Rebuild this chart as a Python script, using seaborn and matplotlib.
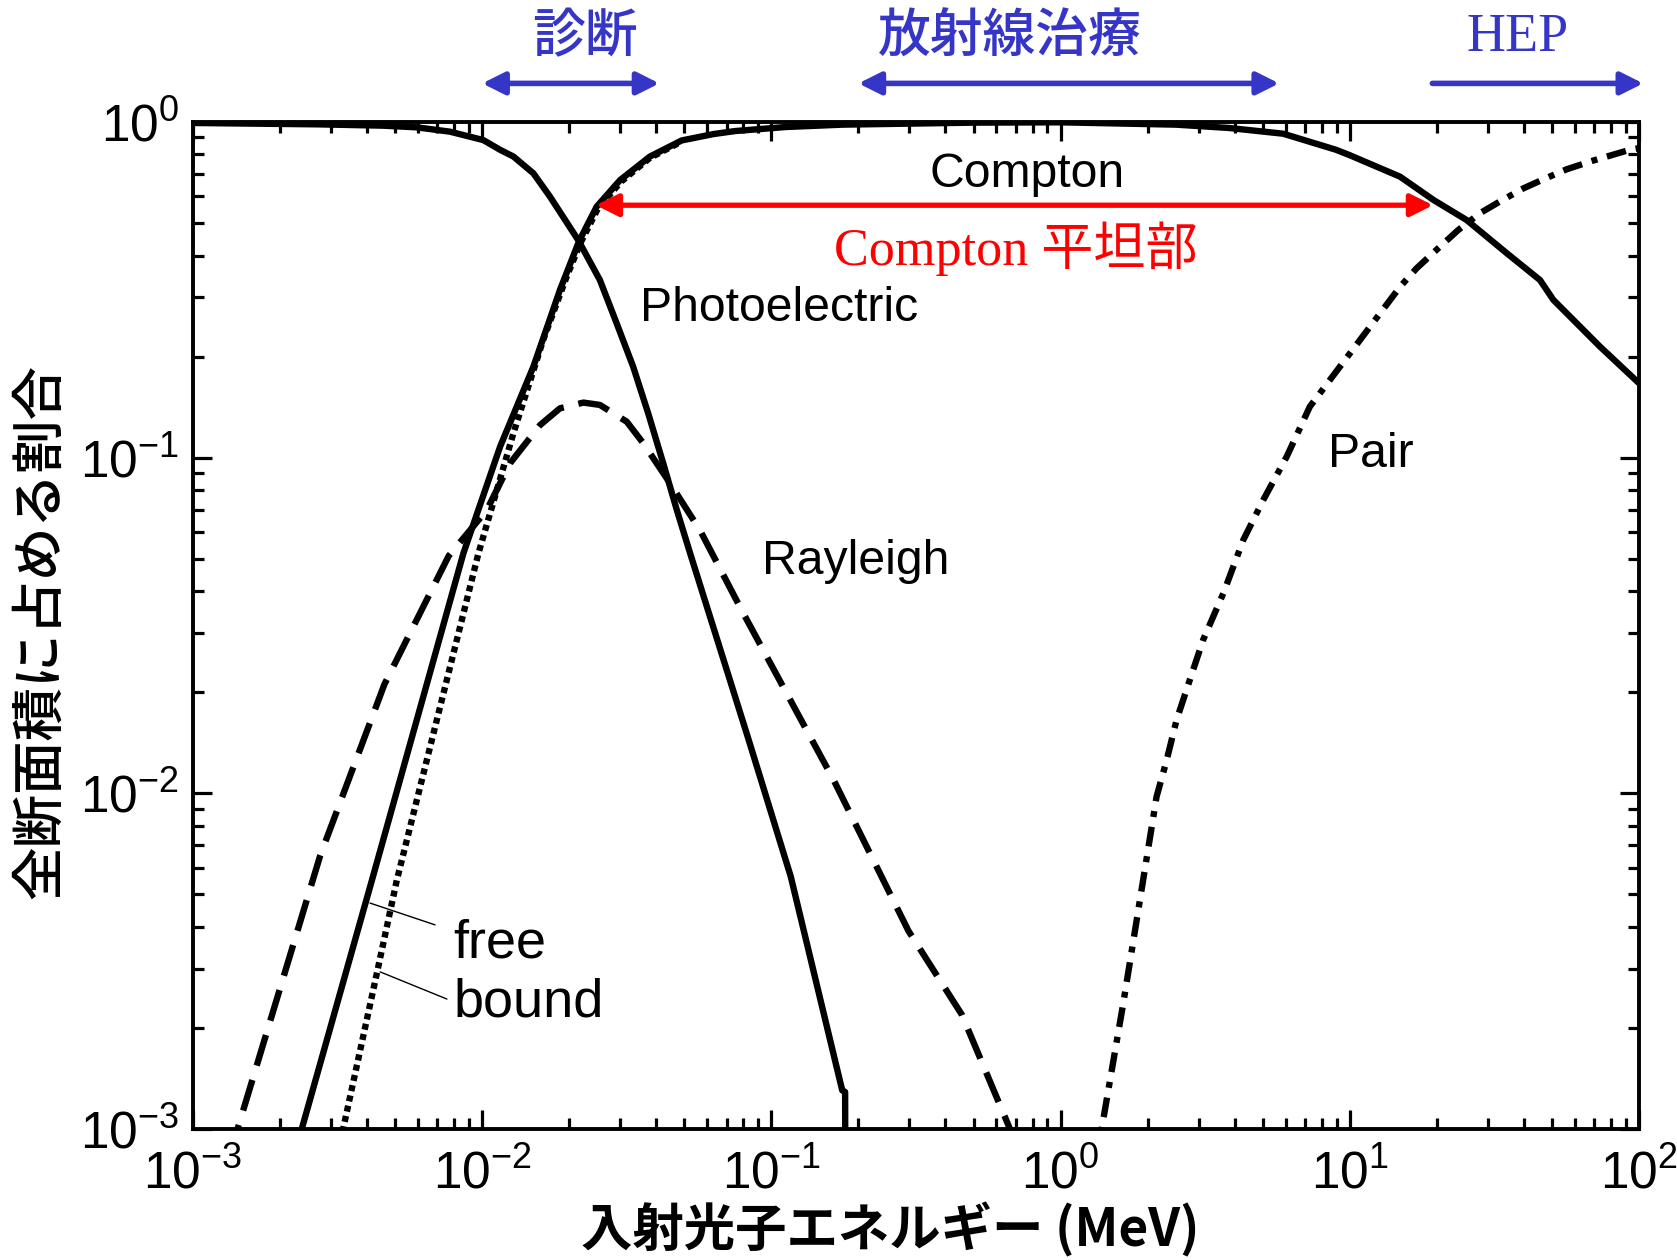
import numpy as np
import pandas as pd
import matplotlib
matplotlib.use("Agg")
import matplotlib.pyplot as plt
from matplotlib import font_manager
from matplotlib.ticker import LogLocator, NullFormatter
import seaborn as sns

# ---------------- data (log10 of energy in MeV, log10 of fraction) ----------------
compton_free_logE = [-2.66, -2.624, -2.381, -2.065, -1.938, -1.823, -1.755, -1.731, -1.665,
                     -1.604, -1.523, -1.42, -1.31, -1.2, -1.125, -0.95, -0.756, -0.3, 0.0,
                     0.4, 0.584, 0.77, 0.953, 1.0, 1.174, 1.289, 1.404, 1.543, 1.658, 1.704,
                     1.865, 2.0]
compton_free_logF = [-3.11, -3.0, -2.258, -1.285, -0.967, -0.729, -0.56, -0.5, -0.355,
                     -0.252, -0.173, -0.103, -0.055, -0.036, -0.027, -0.015, -0.008, -0.002, -0.001,
                     -0.008, -0.018, -0.035, -0.083, -0.099, -0.163, -0.232, -0.292, -0.391, -0.471,
                     -0.53, -0.669, -0.778]

compton_bound_logE = [-2.50, -2.481, -2.364, -2.295, -2.013, -1.892, -1.789, -1.708, -1.66,
                      -1.60, -1.52, -1.42, -1.31]
compton_bound_logF = [-3.07, -3.0, -2.535, -2.258, -1.285, -0.927, -0.649, -0.461, -0.36,
                      -0.258, -0.178, -0.107, -0.058]

photo_logE = [-3.0, -2.572, -2.342, -2.226, -2.111, -1.996, -1.938, -1.892, -1.823, -1.766,
              -1.668, -1.593, -1.535, -1.478, -1.426, -1.374, -1.327, -1.281, -1.081, -0.933,
              -0.755, -0.745, -0.744]
photo_logF = [-0.003, -0.007, -0.011, -0.016, -0.029, -0.054, -0.083, -0.103, -0.153, -0.222,
              -0.352, -0.471, -0.6, -0.729, -0.868, -1.017, -1.156, -1.285, -1.834, -2.248,
              -2.885, -2.89, -3.3]

rayleigh_logE = [-2.87, -2.846, -2.56, -2.338, -2.116, -1.984, -1.904, -1.8, -1.731, -1.65,
                 -1.593, -1.5, -1.443, -1.35, -1.247, -1.097, -0.785, -0.526,
                 -0.341, -0.175, -0.16]
rayleigh_logF = [-3.08, -3.0, -2.185, -1.675, -1.293, -1.156, -1.017, -0.903, -0.853, -0.836,
                 -0.843, -0.893, -0.957, -1.077, -1.216, -1.464, -1.96, -2.41,
                 -2.66, -3.0, -3.05]

pair_logE = [0.13, 0.142, 0.216, 0.332, 0.367, 0.401, 0.447, 0.493, 0.563, 0.632, 0.701,
             0.782, 0.862, 1.174, 1.231, 1.3, 1.375, 1.45, 1.519, 1.6, 1.669, 1.75,
             1.842, 1.968, 2.0]
pair_logF = [-3.1, -3.0, -2.63, -2.01, -1.901, -1.782, -1.662, -1.543, -1.404, -1.245, -1.126,
             -0.997, -0.848, -0.491, -0.436, -0.381, -0.322, -0.272, -0.237, -0.198, -0.171,
             -0.141, -0.115, -0.083, -0.078]

x_tick_labels = [r"$\mathregular{10^{-3}}$", r"$\mathregular{10^{-2}}$", r"$\mathregular{10^{-1}}$",
                 r"$\mathregular{10^{0}}$", r"$\mathregular{10^{1}}$", r"$\mathregular{10^{2}}$"]
y_tick_labels = [r"$\mathregular{10^{-3}}$", r"$\mathregular{10^{-2}}$", r"$\mathregular{10^{-1}}$",
                 r"$\mathregular{10^{0}}$"]

# application bands above the plot: (label, start MeV, end MeV, log10 label centre)
band_names = ["診断", "放射線治療", "HEP"]
band_start = [0.01, 0.2, 19.3]
band_end = [0.041, 5.7, 103.5]
band_label_logE = [-1.646, -0.175, 1.582]

# ---------------- style ----------------
sns.set_theme(style="ticks")


def has_font(name):
    try:
        font_manager.findfont(font_manager.FontProperties(family=name), fallback_to_default=False)
        return True
    except Exception:
        return False


NARROW_NAME = "Liberation Sans"
for cand in ["Liberation Sans Narrow", "Arial Narrow", "Roboto Condensed", "Open Sans Condensed"]:
    if has_font(cand):
        NARROW_NAME = cand
        break
SANS = ["Liberation Sans", "DejaVu Sans"]
CJK = ["Noto Sans CJK JP", "DejaVu Sans"]
plt.rcParams["font.family"] = SANS
plt.rcParams["mathtext.fontset"] = "custom"
plt.rcParams["mathtext.rm"] = NARROW_NAME
plt.rcParams["mathtext.it"] = NARROW_NAME
plt.rcParams["mathtext.bf"] = NARROW_NAME

fig = plt.figure(figsize=(16.77, 12.6), dpi=100)
ax = fig.add_axes([0.1151, 0.1040, 0.8622, 0.7992])

LW = 4.6


def draw(logE, logF, dashes):
    df = pd.DataFrame({"E": 10 ** np.asarray(logE), "F": 10 ** np.asarray(logF)})
    sns.lineplot(data=df, x="E", y="F", ax=ax, color="black", linewidth=LW,
                 estimator=None, sort=False)
    line = ax.lines[-1]
    if dashes is not None:
        line.set_dashes(dashes)
        line.set_dash_capstyle("butt")
    line.set_solid_capstyle("butt")
    line.set_solid_joinstyle("round")


draw(compton_free_logE, compton_free_logF, None)
draw(photo_logE, photo_logF, None)
draw(compton_bound_logE, compton_bound_logF, (0.94, 0.7))
draw(rayleigh_logE, rayleigh_logF, (5.0, 2.35))
draw(pair_logE, pair_logF, (3.1, 1.56, 0.94, 1.56))

ax.set_xscale("log")
ax.set_yscale("log")
ax.set_xlim(1e-3, 1e2)
ax.set_ylim(1e-3, 1.0)

ax.xaxis.set_minor_locator(LogLocator(base=10, subs=np.arange(2, 10), numticks=100))
ax.yaxis.set_minor_locator(LogLocator(base=10, subs=np.arange(2, 10), numticks=100))
ax.set_xticks([1e-3, 1e-2, 1e-1, 1e0, 1e1, 1e2])
ax.set_xticklabels(x_tick_labels)
ax.set_yticks([1e-3, 1e-2, 1e-1, 1e0])
ax.set_yticklabels(y_tick_labels)
ax.xaxis.set_minor_formatter(NullFormatter())
ax.yaxis.set_minor_formatter(NullFormatter())

ax.tick_params(which="both", direction="in", top=True, right=True, color="black",
               width=2.3, labelsize=37, labelcolor="black")
ax.tick_params(which="major", length=14)
ax.tick_params(axis="x", which="major", pad=15)
ax.tick_params(axis="y", which="major", pad=10)
ax.tick_params(which="minor", length=8)
for sp in ax.spines.values():
    sp.set_linewidth(2.8)
    sp.set_color("black")

# axis titles
ax.set_xlabel("入射光子エネルギー (MeV)", family=CJK, fontsize=37, weight="bold",
              va="center", ha="center", color="black")
ax.xaxis.set_label_coords(0.482, -0.1003)
ax.set_ylabel("全断面積に占める割合", family=CJK, fontsize=38.5, weight="medium",
              va="center", ha="center", color="black")
ax.yaxis.set_label_coords(-0.1054, 0.4945)

# curve labels
lab_kw = dict(fontsize=34.7, color="black", family=SANS)
ax.text(10 ** -0.117, 10 ** -0.156, "Compton", ha="center", va="center", **lab_kw)
ax.text(10 ** -1.456, 10 ** -0.557, "Photoelectric", ha="left", va="center", **lab_kw)
ax.text(10 ** -1.034, 10 ** -1.309, "Rayleigh", ha="left", va="center", **lab_kw)
ax.text(10 ** 0.926, 10 ** -0.99, "Pair", ha="left", va="center", **lab_kw)
fb_kw = dict(fontsize=39, color="black", family=SANS)
ax.text(10 ** -2.10, 10 ** -2.446, "free", ha="left", va="center", **fb_kw)
ax.text(10 ** -2.10, 10 ** -2.622, "bound", ha="left", va="center", **fb_kw)
ax.plot([10 ** -2.388, 10 ** -2.163], [10 ** -2.327, 10 ** -2.392], color="black", lw=1.0)
ax.plot([10 ** -2.353, 10 ** -2.122], [10 ** -2.532, 10 ** -2.613], color="black", lw=1.0)

# Compton plateau arrow
ax.annotate("", xy=(10 ** 1.288, 10 ** -0.248), xytext=(10 ** -1.607, 10 ** -0.248),
            arrowprops=dict(arrowstyle="<|-|>,head_length=0.9,head_width=0.45",
                            color="#ff0000", lw=3.8, mutation_scale=15,
                            shrinkA=0, shrinkB=0))
ax.text(10 ** -0.154, 10 ** -0.379, "Compton 平坦部", ha="center", va="center",
        fontsize=37.5, color="#ff0000", family=["Liberation Serif", "Noto Sans CJK JP"])

# application bands above the plot
blue = "#3535c8"
tr = ax.get_xaxis_transform()
for name, e0, e1, lx in zip(band_names, band_start, band_end, band_label_logE):
    style = "<|-|>" if name != "HEP" else "-|>"
    ax.annotate("", xy=(e1, 1.0383), xytext=(e0, 1.0383), xycoords=tr, textcoords=tr,
                annotation_clip=False,
                arrowprops=dict(arrowstyle=style + ",head_length=0.9,head_width=0.45",
                                color=blue, lw=4.0, mutation_scale=15,
                                shrinkA=0, shrinkB=0))
    if name == "HEP":
        ax.text(10 ** lx, 1.084, name, transform=tr, ha="center", va="center", color=blue,
                fontsize=39, family=["Liberation Serif", "DejaVu Serif"], clip_on=False)
    else:
        ax.text(10 ** lx, 1.084, name, transform=tr, ha="center", va="center", color=blue,
                fontsize=38, family=CJK, weight="medium", clip_on=False)

fig.savefig("out.png", dpi=100)
